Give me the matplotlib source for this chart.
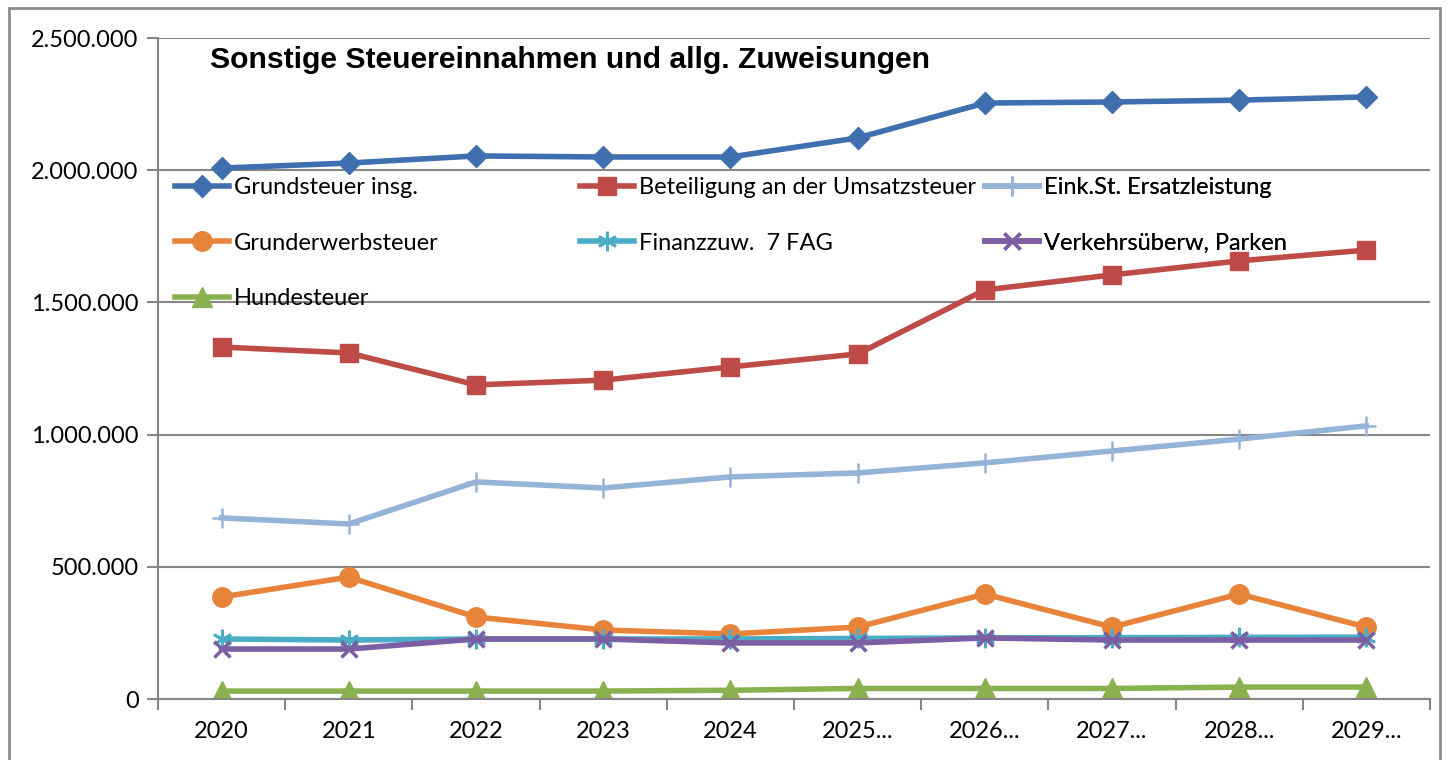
import matplotlib.pyplot as plt
from matplotlib.patches import Rectangle
from matplotlib.ticker import FuncFormatter

# Jahre / Kategorien
years = ['2020', '2021', '2022', '2023', '2024', '2025...', '2026...', '2027...', '2028...', '2029...']

# Werte je Reihe
grundsteuer = [2008000, 2027000, 2054000, 2050000, 2050000, 2122000, 2254000, 2258000, 2265000, 2277000]
umsatzsteuer = [1331000, 1309000, 1188000, 1206000, 1256000, 1305000, 1547000, 1604000, 1657000, 1698000]
eink_ersatz = [685000, 662000, 821000, 798000, 840000, 855000, 893000, 938000, 983000, 1033000]
grunderwerb = [386000, 461000, 310000, 261000, 246000, 272000, 397000, 272000, 397000, 272000]
finanzzuw = [227000, 223000, 227000, 227000, 227000, 229000, 231000, 232000, 233000, 234000]
verkehr = [189000, 189000, 227000, 227000, 212000, 212000, 231000, 223000, 223000, 223000]
hundesteuer = [30000, 30000, 30000, 30000, 33000, 40000, 40000, 40000, 45000, 45000]

plt.rcParams['font.family'] = ['Lato', 'DejaVu Sans']

fig = plt.figure(figsize=(14.48, 7.6), dpi=100)
ax = fig.add_axes([158 / 1448, 1 - 699 / 760, 1272 / 1448, 661 / 760])

x = list(range(len(years)))
lw = 4
l1, = ax.plot(x, grundsteuer, color='#3F6FAE', lw=lw, marker='D', ms=11, label='Grundsteuer insg.')
l2, = ax.plot(x, umsatzsteuer, color='#BE4B48', lw=lw, marker='s', ms=13, label='Beteiligung an der Umsatzsteuer')
l3, = ax.plot(x, eink_ersatz, color='#95B3D7', lw=lw, marker='+', ms=15, mew=1.8, label='Eink.St. Ersatzleistung')
l4, = ax.plot(x, grunderwerb, color='#E8843A', lw=lw, marker='o', ms=14, label='Grunderwerbsteuer')
l5, = ax.plot(x, finanzzuw, color='#4BACC6', lw=lw, marker=(6, 2, 0), ms=14, mew=2, label='Finanzzuw.  7 FAG')
l6, = ax.plot(x, verkehr, color='#7B5EA3', lw=lw, marker='x', ms=12, mew=2.5, label='Verkehrsüberw, Parken')
l7, = ax.plot(x, hundesteuer, color='#8AB150', lw=lw, marker='^', ms=14, label='Hundesteuer')

ax.set_xlim(-0.5, 9.5)
ax.set_ylim(0, 2500000)
ax.set_yticks(range(0, 2500001, 500000))
ax.yaxis.set_major_formatter(FuncFormatter(lambda v, p: f'{int(v):,}'.replace(',', '.')))
ax.set_xticks(x, years)
ax.set_xticks([i - 0.5 for i in range(11)], minor=True)
ax.tick_params(axis='x', which='major', length=0, pad=16, labelsize=17)
ax.tick_params(axis='x', which='minor', length=8, width=1.5, color='#868686')
ax.tick_params(axis='y', length=8, width=1.5, color='#868686', labelsize=17, pad=6)

ax.grid(axis='y', color='#868686', lw=1.5)
ax.set_axisbelow(True)
for s in ['top', 'right']:
    ax.spines[s].set_visible(False)
for s in ['left', 'bottom']:
    ax.spines[s].set_color('#868686')
    ax.spines[s].set_linewidth(1.5)

ax.text(0.041, 0.967, 'Sonstige Steuereinnahmen und allg. Zuweisungen', transform=ax.transAxes,
        fontsize=21.7, fontweight='bold', family='Liberation Sans', va='center', ha='left')

# Legende in drei Spalten
cols = [([l1, l4, l7], 0.0134), ([l2, l5], 0.3318), ([l3, l6], 0.650)]
for handles, lx in cols:
    leg = ax.legend(handles=handles, loc='upper left', bbox_to_anchor=(lx, 0.789), frameon=False,
                    fontsize=17, handlelength=2.3, handletextpad=0.2, labelspacing=1.45,
                    borderpad=0, borderaxespad=0)
    ax.add_artist(leg)

fig.patches.append(Rectangle((9 / 1448, -0.1), 1431 / 1448, 1.1 - 8 / 760, transform=fig.transFigure,
                             fill=False, edgecolor='#8C8C8C', lw=2))

fig.savefig('out.png', dpi=100)
